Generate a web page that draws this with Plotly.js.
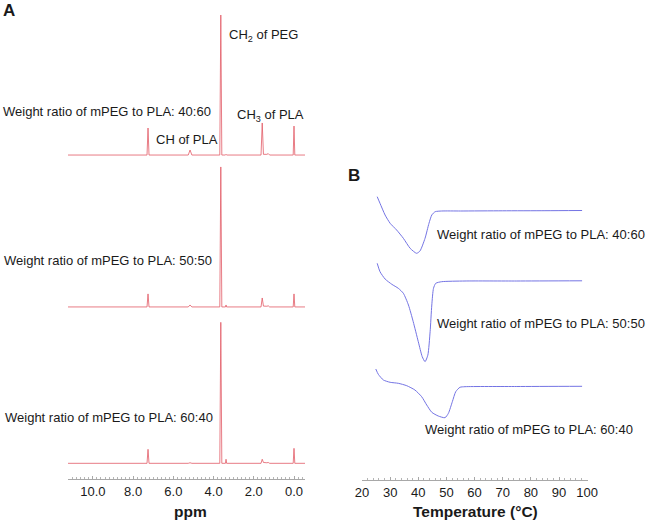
<!DOCTYPE html>
<html>
<head>
<meta charset="utf-8">
<script src="https://cdn.plot.ly/plotly-3.0.1.min.js"></script>
<style>html,body{margin:0;padding:0;background:#fff;}#chart{width:648px;height:520px;}</style>
</head>
<body>
<div id="chart"></div>
<script>
// ---------- DATA ----------
// Panel A: 1H NMR, chemical shift (ppm) and relative intensity (CH2 of PEG = 100)
const ppm = [11.25, 7.31, 7.26, 7.21, 5.26, 5.17, 5.08, 3.69, 3.64, 3.59, 3.41, 3.38, 3.35, 1.64, 1.58, 1.52, 1.35, 1.28, 1.21, 0.04, 0.00, -0.04, -0.55];
const nmr4060 = [0, 0, 19.3, 0, 0, 3.6, 0, 0, 100, 0, 0, 0.5, 0, 0, 22.9, 0.5, 0.5, 1.0, 0, 0, 20.7, 0, 0];
const nmr5050 = [0, 0, 9.3, 0, 0, 1.4, 0, 0, 100, 0, 0, 1.4, 0, 0, 6.4, 0.6, 0.5, 0.8, 0, 0, 9.3, 0, 0];
const nmr6040 = [0, 0, 10.0, 0, 0, 0.4, 0, 0, 100.7, 0, 0, 2.9, 0, 0, 2.9, 0.6, 0.4, 0.6, 0, 0, 10.7, 0, 0];
const nmrTicks = [10, 8, 6, 4, 2, 0];
const nmrTickText = ["10.0", "8.0", "6.0", "4.0", "2.0", "0.0"];

// Panel B: DSC, temperature (°C) and relative heat flow (a.u.)
const temp4060 = [25.4, 26.4, 28.2, 30.0, 32.3, 34.7, 37.1, 39.4, 40.6, 42.4, 43.8, 44.8, 46.0, 48.3, 55, 70, 85, 98.2];
const hf4060 = [1.43, 0.77, -0.4, -1.23, -1.9, -2.73, -3.73, -4.23, -4.0, -2.73, -1.23, -0.4, -0.07, 0, 0, 0.02, 0.03, 0.05];
const temp5050 = [25.4, 26.4, 28.2, 30.6, 32.9, 34.7, 36.5, 38.2, 40.0, 41.4, 42.4, 43.4, 44.2, 44.8, 45.4, 46.2, 48.3, 56.6, 75, 98.2];
const hf5050 = [1.77, 0.93, 0.2, -0.33, -0.73, -1.23, -2.4, -4.07, -6.07, -7.57, -8.07, -7.4, -5.07, -2.4, -0.73, -0.23, -0.07, 0, 0, 0.02];
const temp6040 = [24.9, 25.8, 27.6, 30.0, 32.9, 35.9, 38.8, 41.2, 43.0, 44.8, 47.1, 49.5, 50.7, 52.1, 53.3, 54.8, 56.6, 75, 98.2];
const hf6040 = [1.75, 1.22, 0.65, 0.42, 0.32, 0.08, -0.35, -1.02, -1.85, -2.58, -2.95, -3.12, -2.68, -1.52, -0.52, -0.08, -0.02, 0, 0.02];
const sampleNames = ["Weight ratio of mPEG to PLA: 40:60", "Weight ratio of mPEG to PLA: 50:50", "Weight ratio of mPEG to PLA: 60:40"];

// ---------- LAYOUT CONSTANTS ----------
const W = 648, H = 520;
const px = v => v / W;
const py = v => 1 - v / H;
const nmrStack = [231.4, 122.9, 11.2];   // vertical stacking offsets (intensity units)
const dscStack = [26.9, 19.9, 9.35];     // vertical stacking offsets (heat-flow units)
const red = "#e25a66", blue = "#7474e4";
const FONT = "Liberation Sans, Arial, sans-serif";

const nmrSets = [nmr4060, nmr5050, nmr6040];
const dscSets = [[temp4060, hf4060], [temp5050, hf5050], [temp6040, hf6040]];

const traces = [];
nmrSets.forEach((s, i) => {
  traces.push({
    x: ppm, y: s.map(v => v + nmrStack[i]), type: "scatter", mode: "lines",
    line: {color: red, width: 0.8}, xaxis: "x", yaxis: "y", hoverinfo: "skip", showlegend: false
  });
});
dscSets.forEach((d, i) => {
  traces.push({
    x: d[0], y: d[1].map(v => v + dscStack[i]), type: "scatter", mode: "lines",
    line: {color: blue, width: 1, shape: "spline", smoothing: 0.6}, xaxis: "x2", yaxis: "y2",
    hoverinfo: "skip", showlegend: false
  });
});

const txt = (text, x, y, size, opts) => Object.assign({
  text: text, xref: "paper", yref: "paper", x: px(x), y: py(y), xanchor: "left", yanchor: "middle",
  showarrow: false, font: {family: FONT, size: size, color: "#1a1a1a"}
}, opts || {});

const annotations = [
  txt("<b>A</b>", 1, 10, 17),
  txt("<b>B</b>", 346, 175, 17),
  txt("CH<sub>2</sub> of PEG", 227, 36, 13),
  txt("CH<sub>3</sub> of PLA", 235, 115, 13),
  txt("CH of PLA", 154, 140, 13),
  txt(sampleNames[0], 1, 111, 13),
  txt(sampleNames[1], 2, 260, 13),
  txt(sampleNames[2], 3, 417, 13),
  txt(sampleNames[0], 435, 235, 13),
  txt(sampleNames[1], 435, 323, 13),
  txt(sampleNames[2], 423, 429, 13),
  txt("<b>ppm</b>", 191, 511, 15.5, {xanchor: "center"}),
  txt("<b>Temperature (°C)</b>", 475, 511, 15.5, {xanchor: "center"})
];

const axisCommon = {
  showgrid: false, zeroline: false, showline: true, linecolor: "#a8a8a8", linewidth: 1,
  ticks: "inside", ticklen: 3, tickcolor: "#a8a8a8",
  tickfont: {family: FONT, size: 13, color: "#1a1a1a"}, fixedrange: true
};

const layout = {
  width: W, height: H,
  margin: {l: 0, r: 0, t: 0, b: 0, pad: 0},
  paper_bgcolor: "#fff", plot_bgcolor: "rgba(0,0,0,0)",
  showlegend: false,
  xaxis: Object.assign({}, axisCommon, {
    domain: [px(68), px(305)], range: [11.24, -0.547], anchor: "y",
    tickmode: "array", tickvals: nmrTicks, ticktext: nmrTickText,
    minor: {ticks: "inside", ticklen: 2, tickcolor: "#b5b5b5", dtick: 0.2, showgrid: false}
  }),
  yaxis: {domain: [41 / H, 510 / H], range: [0, 335], visible: false, fixedrange: true},
  xaxis2: Object.assign({}, axisCommon, {
    domain: [px(362), px(588)], range: [20, 100.3], anchor: "y2",
    tickmode: "linear", tick0: 20, dtick: 10,
    minor: {ticks: "inside", ticklen: 2, tickcolor: "#b5b5b5", dtick: 2, showgrid: false}
  }),
  yaxis2: {domain: [40 / H, 370 / H], range: [0, 33], visible: false, fixedrange: true},
  annotations: annotations
};

Plotly.newPlot("chart", traces, layout, {staticPlot: true, displayModeBar: false});
</script>
</body>
</html>
